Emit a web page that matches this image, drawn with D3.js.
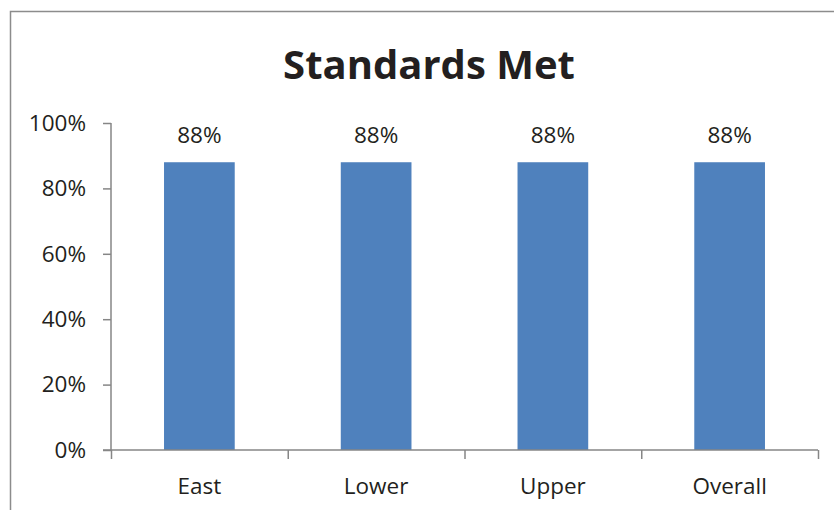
<!DOCTYPE html>
<html><head><meta charset="utf-8">
<script src="https://cdn.jsdelivr.net/npm/d3@7"></script>
<style>body{margin:0;background:#fff}svg{display:block}</style>
</head><body><svg id="c" width="834" height="510"></svg>
<script>
const categories = ["East","Lower","Upper","Overall"];
const values = [0.88,0.88,0.88,0.88];
const yTicks = [0,0.2,0.4,0.6,0.8,1.0];
const title = "Standards Met";

const svg = d3.select("#c");
const font = "'Open Sans', 'Liberation Sans', sans-serif";
const axisColor = "#868686";
// outer border
svg.append("rect").attr("x",10.5).attr("y",11.5).attr("width",840).attr("height",520)
  .attr("fill","none").attr("stroke","#8c8c8c").attr("stroke-width",1.5);

const x0=111, x1=818, y0=450, y1=123;
const x = d3.scaleBand().domain(categories).range([x0,x1]).paddingInner(0.6).paddingOuter(0.3);
const y = d3.scaleLinear().domain([0,1]).range([y0,y1]);

svg.append("text").attr("x",429).attr("y",79).attr("text-anchor","middle")
  .attr("font-family",font).attr("font-weight","bold").attr("font-size",40).attr("fill","#231f20").text(title);

svg.selectAll("rect.bar").data(values).join("rect").attr("class","bar")
  .attr("x",(d,i)=>x(categories[i])).attr("width",x.bandwidth())
  .attr("y",d=>y(d)).attr("height",d=>y0-y(d)).attr("fill","#4f81bd");

svg.selectAll("text.lab").data(values).join("text").attr("class","lab")
  .attr("x",(d,i)=>x(categories[i])+x.bandwidth()/2).attr("y",d=>y(d)-19)
  .attr("text-anchor","middle").attr("font-family",font).attr("font-size",22.5).attr("fill","#231f20")
  .text(d=>Math.round(d*100)+"%");

const ya = svg.append("g").attr("transform",`translate(${x0},0)`)
  .call(d3.axisLeft(y).tickValues(yTicks).tickSize(8).tickPadding(17).tickFormat(d=>Math.round(d*100)+"%"));
ya.selectAll("path").attr("d",`M-0,${y1}V${y0}`).attr("stroke",axisColor).attr("stroke-width",1.5);
ya.selectAll("line").attr("stroke",axisColor).attr("stroke-width",1.5);
ya.selectAll("text").attr("font-family",font).attr("font-size",22.5).attr("fill","#231f20");

const xb = d3.scaleLinear().domain([0,categories.length]).range([x0,x1]);
const xa = svg.append("g").attr("transform",`translate(0,${y0})`)
  .call(d3.axisBottom(xb).tickValues(d3.range(categories.length+1)).tickSize(9).tickFormat(""));
xa.selectAll("path").attr("d",`M${x0-8},0H${x1}`).attr("stroke",axisColor).attr("stroke-width",1.5);
xa.selectAll("line").attr("stroke",axisColor).attr("stroke-width",1.5);
svg.selectAll("text.cat").data(categories).join("text").attr("class","cat")
  .attr("x",d=>x(d)+x.bandwidth()/2).attr("y",494).attr("text-anchor","middle")
  .attr("font-family",font).attr("font-size",22.5).attr("fill","#231f20").text(d=>d);
</script></body></html>
